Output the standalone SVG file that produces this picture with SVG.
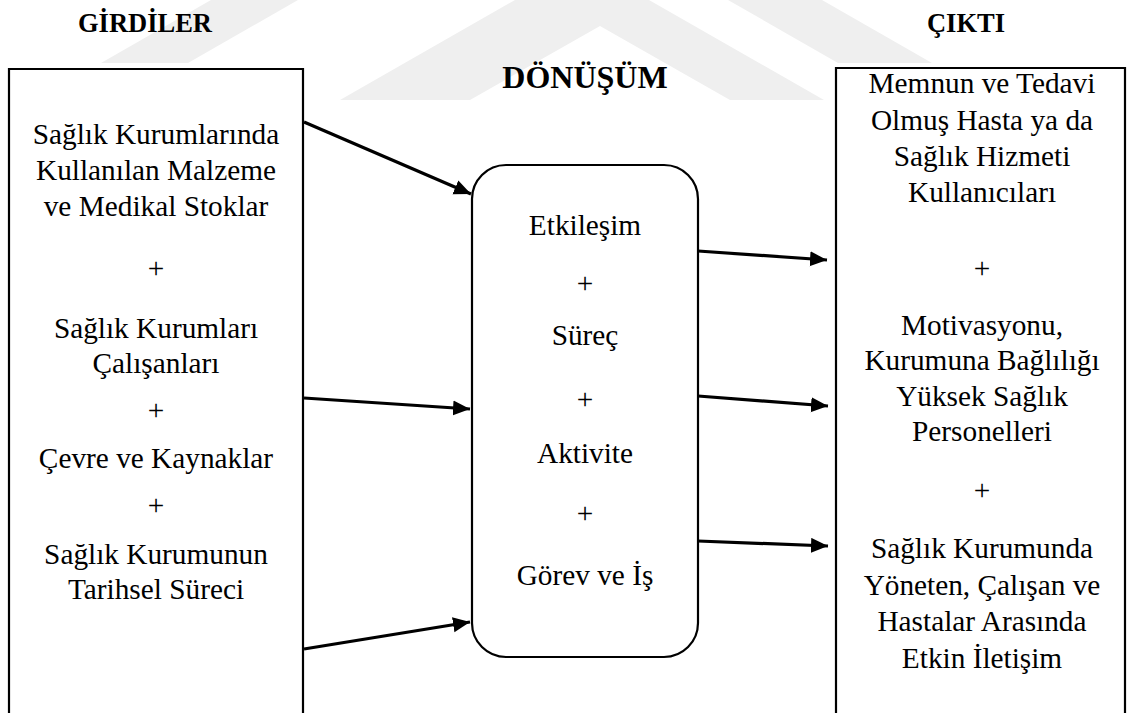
<svg xmlns="http://www.w3.org/2000/svg" width="1133" height="713" viewBox="0 0 1133 713">
  <defs>
    <style>
      .title { font-family: "Liberation Serif", "Times New Roman", serif; font-weight: bold; font-size: 26.5px; fill: #000; text-anchor: middle; }
      .big { font-size: 32px; }
      .lbl { font-family: "Liberation Serif", "Times New Roman", serif; font-size: 29.3px; fill: #000; text-anchor: middle; }
      .box { fill: none; stroke: #000; stroke-width: 2.2; }
      .conn { fill: none; stroke: #000; stroke-width: 3.2; marker-end: url(#head); }
      .mark { fill: #efefef; }
    </style>
    <marker id="head" markerUnits="userSpaceOnUse" markerWidth="18" markerHeight="16" refX="17" refY="7.5" orient="auto">
      <path d="M0,0 L17,7.5 L0,15 Z" fill="#000"/>
    </marker>
  </defs>

  <rect width="1133" height="713" fill="#fff"/>

  <!-- faint background emblem -->
  <g id="emblem">
    <polygon class="mark" points="101,63 188,63 298,0 211,0"/>
    <polygon class="mark" points="340,100 470,100 600,26 730,100 824,100 649,0 515,0"/>
    <polygon class="mark" points="838,63 932,63 822,0 728,0"/>
  </g>

  <!-- column headings -->
  <g id="headings">
    <text class="title" x="145" y="32">GİRDİLER</text>
    <text class="title big" x="585" y="88">DÖNÜŞÜM</text>
    <text class="title" x="966" y="32">ÇIKTI</text>
  </g>

  <!-- inputs -->
  <g id="inputs">
    <path class="box" d="M9,720 V69 H303 V720"/>
    <text class="lbl" x="156" y="144">Sağlık Kurumlarında</text>
    <text class="lbl" x="156" y="180">Kullanılan Malzeme</text>
    <text class="lbl" x="156" y="216">ve Medikal Stoklar</text>
    <text class="lbl" x="156" y="278">+</text>
    <text class="lbl" x="156" y="338">Sağlık Kurumları</text>
    <text class="lbl" x="156" y="373">Çalışanları</text>
    <text class="lbl" x="156" y="420">+</text>
    <text class="lbl" x="156" y="468">Çevre ve Kaynaklar</text>
    <text class="lbl" x="156" y="515">+</text>
    <text class="lbl" x="156" y="564">Sağlık Kurumunun</text>
    <text class="lbl" x="156" y="599">Tarihsel Süreci</text>
  </g>

  <!-- transformation -->
  <g id="transformation">
    <rect class="box" x="472" y="165" width="226" height="492" rx="34" ry="34"/>
    <text class="lbl" x="585" y="235">Etkileşim</text>
    <text class="lbl" x="585" y="293">+</text>
    <text class="lbl" x="585" y="345">Süreç</text>
    <text class="lbl" x="585" y="409">+</text>
    <text class="lbl" x="585" y="463">Aktivite</text>
    <text class="lbl" x="585" y="523">+</text>
    <text class="lbl" x="585" y="585">Görev ve İş</text>
  </g>

  <!-- outputs -->
  <g id="outputs">
    <path class="box" d="M836,720 V68 H1125 V720"/>
    <text class="lbl" x="982" y="93">Memnun ve Tedavi</text>
    <text class="lbl" x="982" y="130">Olmuş Hasta ya da</text>
    <text class="lbl" x="982" y="166">Sağlık Hizmeti</text>
    <text class="lbl" x="982" y="202">Kullanıcıları</text>
    <text class="lbl" x="982" y="278">+</text>
    <text class="lbl" x="982" y="335">Motivasyonu,</text>
    <text class="lbl" x="982" y="370">Kurumuna Bağlılığı</text>
    <text class="lbl" x="982" y="406">Yüksek Sağlık</text>
    <text class="lbl" x="982" y="441">Personelleri</text>
    <text class="lbl" x="982" y="500">+</text>
    <text class="lbl" x="982" y="558">Sağlık Kurumunda</text>
    <text class="lbl" x="982" y="595">Yöneten, Çalışan ve</text>
    <text class="lbl" x="982" y="631">Hastalar Arasında</text>
    <text class="lbl" x="982" y="668">Etkin İletişim</text>
  </g>

  <!-- connectors -->
  <g id="connectors">
    <path class="conn" d="M304,122 L471,194"/>
    <path class="conn" d="M304,398 L470,409"/>
    <path class="conn" d="M304,649 L470,622"/>
    <path class="conn" d="M698,251 L827,260"/>
    <path class="conn" d="M698,396 L828,406"/>
    <path class="conn" d="M698,541 L828,546"/>
  </g>
</svg>
